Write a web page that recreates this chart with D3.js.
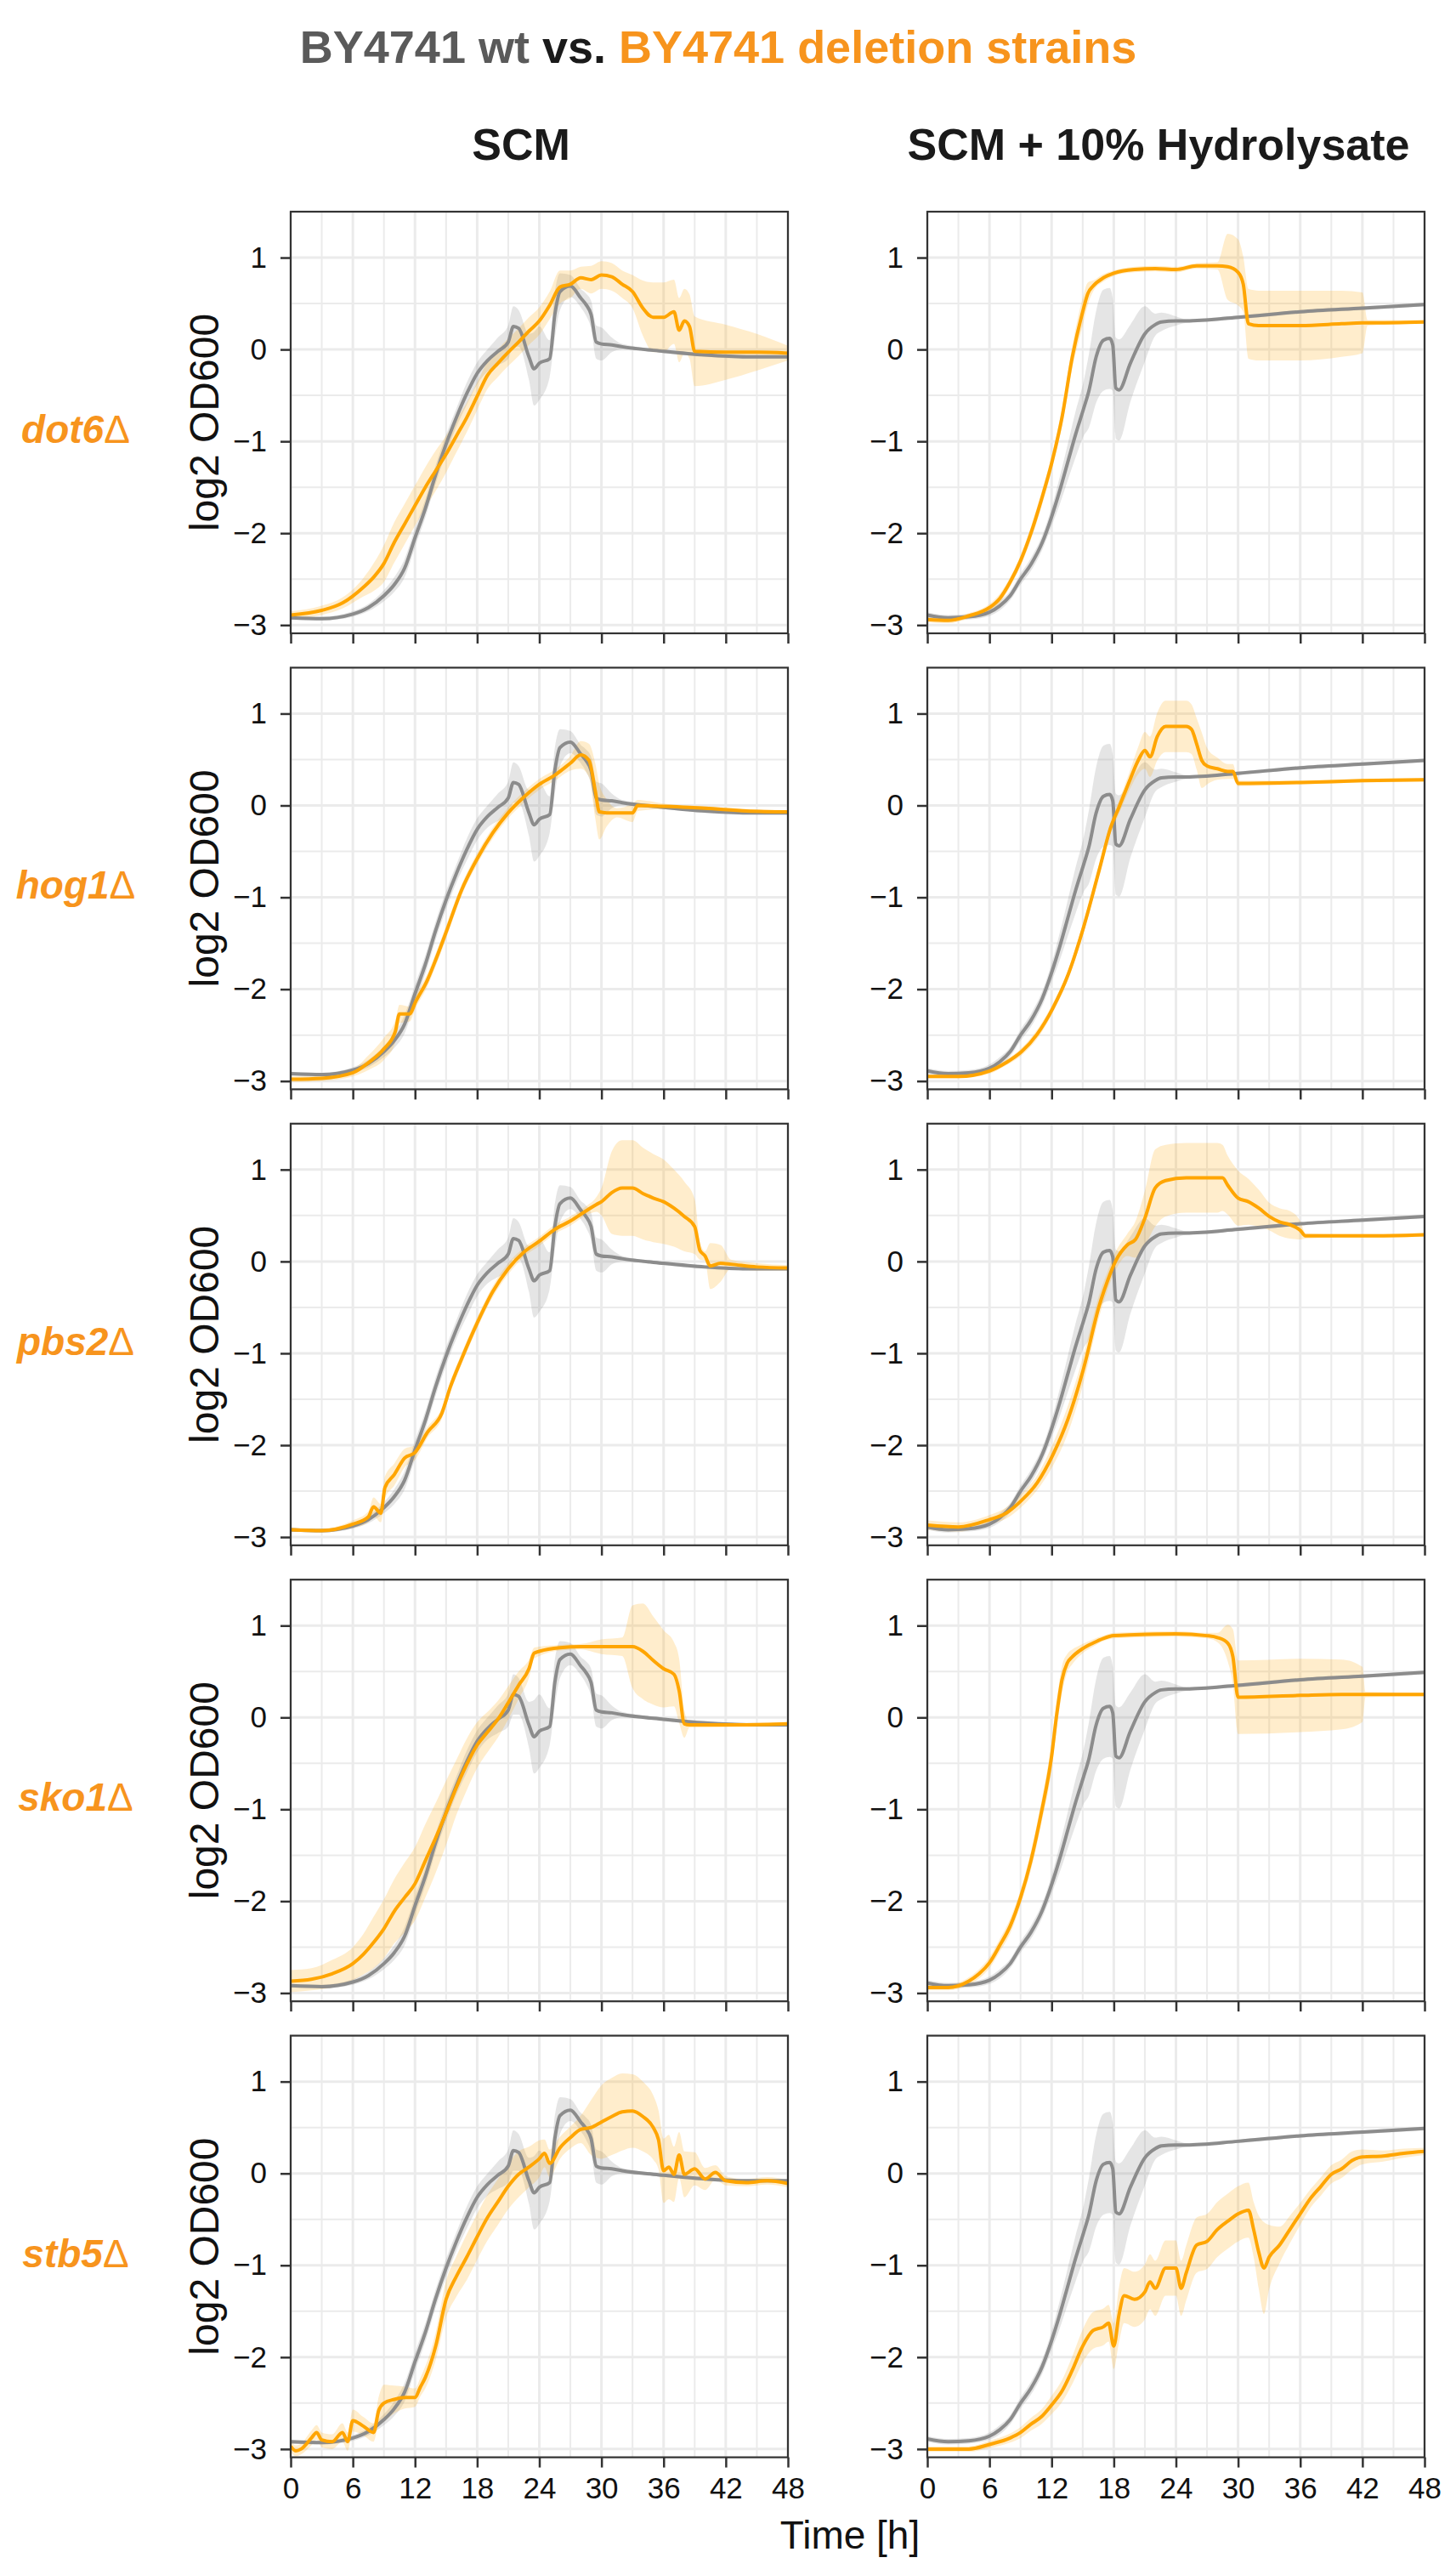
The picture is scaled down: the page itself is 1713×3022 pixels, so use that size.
<!DOCTYPE html>
<html>
<head>
<meta charset="utf-8">
<script src="https://cdn.jsdelivr.net/npm/d3@7"></script>
<style>
  body { margin: 0; background: #fff; }
  svg { display: block; }
  text { font-family: "Liberation Sans", Arial, Helvetica, sans-serif; }
</style>
</head>
<body>
<svg id="chart" width="1713" height="3022"></svg>
<script>
// categories / labels
const strains = ["dot6", "hog1", "pbs2", "sko1", "stb5"];
const media = ["SCM", "SCM + 10% Hydrolysate"];
const xTicks = [0, 6, 12, 18, 24, 30, 36, 42, 48];
const yTicks = [-3, -2, -1, 0, 1];

// each point: [time h, mean log2 OD600, sd]
const wtSCM = [[0,-2.92,0.02],[3,-2.93,0.02],[6,-2.88,0.03],[7.5,-2.81,0.04],[9,-2.68,0.06],[10,-2.56,0.08],[11,-2.38,0.1],[12,-2.05,0.1],[13,-1.73,0.1],[14,-1.36,0.1],[15,-1.03,0.1],[16,-0.74,0.1],[17,-0.48,0.12],[18,-0.26,0.12],[19,-0.12,0.12],[20,-0.02,0.15],[21,0.08,0.18],[21.5,0.25,0.22],[22,0.23,0.2],[23,-0.08,0.25],[23.5,-0.21,0.4],[24,-0.15,0.4],[25,-0.10,0.2],[25.5,0.38,0.25],[26,0.63,0.2],[27,0.69,0.12],[28,0.56,0.1],[28.5,0.49,0.12],[29,0.38,0.15],[29.5,0.08,0.18],[30,0.06,0.18],[31,0.05,0.08],[32,0.03,0.03],[36,-0.02,0.02],[40,-0.06,0.02],[44,-0.08,0.02],[48,-0.08,0.02]];
const wtHyd = [[0,-2.89,0.03],[2,-2.92,0.03],[4,-2.91,0.03],[6,-2.86,0.04],[7,-2.79,0.05],[8,-2.68,0.05],[9,-2.50,0.06],[10,-2.34,0.07],[11.1,-2.10,0.08],[12,-1.82,0.1],[12.8,-1.53,0.15],[13.6,-1.21,0.2],[14.3,-0.93,0.25],[15.1,-0.64,0.3],[15.6,-0.45,0.4],[16.3,-0.08,0.5],[17,0.10,0.55],[17.6,0.12,0.55],[17.9,0.05,0.5],[18.2,-0.42,0.55],[18.5,-0.44,0.55],[19.6,-0.15,0.42],[21,0.17,0.3],[22,0.27,0.12],[22.6,0.30,0.1],[24,0.31,0.05],[25,0.31,0.02],[30,0.35,0.02],[36,0.41,0.02],[42,0.45,0.02],[48,0.49,0.02]];

const dot6SCM = [[0,-2.89,0.04],[3,-2.84,0.05],[5,-2.76,0.06],[7,-2.59,0.1],[8,-2.48,0.15],[9,-2.33,0.2],[10,-2.10,0.22],[11,-1.90,0.22],[12,-1.70,0.22],[13,-1.50,0.22],[14,-1.32,0.22],[15,-1.14,0.2],[16,-0.94,0.18],[17,-0.74,0.16],[18,-0.51,0.15],[19,-0.28,0.15],[20,-0.15,0.15],[21,-0.03,0.15],[22,0.08,0.15],[23,0.20,0.15],[24,0.31,0.15],[25,0.48,0.15],[26,0.68,0.18],[27,0.71,0.15],[28,0.78,0.12],[29,0.76,0.15],[30,0.81,0.15],[31,0.79,0.15],[32,0.71,0.15],[33,0.63,0.18],[34,0.45,0.3],[35,0.35,0.38],[36,0.35,0.38],[37,0.41,0.35],[37.5,0.21,0.35],[38,0.31,0.35],[38.5,0.25,0.35],[39,-0.02,0.38],[42,-0.03,0.3],[45,-0.03,0.2],[48,-0.04,0.08]];
const dot6Hyd = [[0,-2.94,0.03],[2,-2.95,0.03],[4,-2.90,0.03],[6,-2.81,0.04],[7,-2.71,0.05],[8,-2.53,0.05],[9,-2.30,0.06],[10,-2.00,0.07],[11,-1.64,0.08],[12,-1.24,0.08],[13,-0.74,0.1],[14,-0.08,0.12],[15,0.41,0.15],[15.5,0.61,0.12],[16,0.69,0.06],[17,0.78,0.04],[18,0.83,0.03],[20,0.87,0.03],[22,0.88,0.03],[24,0.87,0.03],[26,0.91,0.03],[28,0.91,0.04],[29,0.90,0.36],[30,0.84,0.36],[30.5,0.71,0.3],[31,0.28,0.38],[32,0.26,0.38],[36,0.26,0.38],[40,0.28,0.36],[42,0.29,0.33],[42.5,0.29,0.03],[48,0.30,0.02]];
const hog1SCM = [[0,-2.98,0.03],[3,-2.97,0.03],[6,-2.91,0.04],[7.5,-2.80,0.08],[9,-2.65,0.12],[10.1,-2.46,0.12],[10.5,-2.27,0.1],[11.5,-2.27,0.08],[12,-2.15,0.07],[13.2,-1.90,0.07],[14,-1.68,0.07],[15,-1.38,0.07],[16.5,-0.92,0.06],[18,-0.58,0.06],[19.5,-0.30,0.06],[21,-0.08,0.06],[22.5,0.09,0.06],[24,0.23,0.06],[25.5,0.33,0.06],[27,0.46,0.08],[28,0.55,0.15],[28.8,0.49,0.18],[29.4,0.16,0.3],[29.8,-0.07,0.3],[30.5,-0.08,0.15],[31.5,-0.08,0.05],[33,-0.08,0.1],[33.5,0.00,0.06],[36,-0.01,0.03],[40,-0.03,0.02],[44,-0.06,0.02],[48,-0.07,0.02]];
const hog1Hyd = [[0,-2.95,0.02],[3,-2.95,0.02],[6,-2.89,0.03],[7.6,-2.80,0.03],[9.1,-2.68,0.04],[10.6,-2.49,0.05],[12.1,-2.21,0.05],[13.6,-1.84,0.05],[15.1,-1.32,0.06],[16.6,-0.70,0.06],[17.7,-0.24,0.06],[18.5,-0.02,0.07],[19.6,0.29,0.1],[20.4,0.50,0.15],[21,0.60,0.2],[21.5,0.53,0.22],[22.2,0.75,0.26],[23,0.86,0.28],[24,0.86,0.28],[25,0.86,0.28],[25.5,0.83,0.27],[26,0.67,0.28],[26.5,0.49,0.3],[27,0.43,0.2],[28,0.40,0.12],[29,0.37,0.08],[29.5,0.37,0.08],[30,0.24,0.03],[36,0.25,0.02],[42,0.27,0.02],[48,0.28,0.02]];
const pbs2SCM = [[0,-2.92,0.02],[3,-2.93,0.02],[6,-2.86,0.04],[7.5,-2.78,0.06],[8,-2.67,0.1],[8.7,-2.74,0.1],[9.1,-2.46,0.12],[10,-2.32,0.12],[11,-2.14,0.1],[12,-2.08,0.08],[13.2,-1.86,0.06],[14.6,-1.65,0.06],[15.4,-1.37,0.06],[16.5,-1.06,0.06],[18,-0.67,0.06],[19.5,-0.33,0.06],[21,-0.08,0.06],[22.5,0.10,0.05],[24,0.22,0.05],[25.5,0.35,0.05],[27,0.44,0.05],[28.5,0.55,0.05],[29.5,0.62,0.08],[30,0.65,0.15],[31,0.75,0.45],[32,0.80,0.52],[33,0.80,0.52],[34,0.74,0.5],[35,0.69,0.48],[36,0.65,0.46],[37,0.58,0.42],[38,0.49,0.38],[39,0.38,0.3],[39.5,0.12,0.1],[40,0.06,0.05],[40.5,-0.05,0.25],[41.5,-0.02,0.2],[42.5,-0.03,0.05],[45,-0.06,0.04],[48,-0.07,0.03]];
const pbs2Hyd = [[0,-2.87,0.05],[3,-2.89,0.05],[6,-2.81,0.05],[7.6,-2.74,0.06],[9.1,-2.60,0.07],[10.6,-2.41,0.08],[12.1,-2.11,0.12],[13.6,-1.71,0.15],[15.1,-1.16,0.15],[16.6,-0.48,0.12],[17.4,-0.21,0.1],[18.2,0.01,0.1],[19.3,0.18,0.12],[20.1,0.24,0.2],[21,0.47,0.3],[22,0.80,0.42],[23,0.88,0.39],[25,0.91,0.38],[28,0.91,0.38],[28.5,0.91,0.36],[29,0.83,0.32],[30,0.69,0.3],[31,0.65,0.25],[32,0.58,0.2],[33,0.49,0.15],[34,0.43,0.15],[35,0.40,0.15],[36,0.34,0.1],[36.5,0.28,0.03],[40,0.28,0.02],[44,0.28,0.02],[48,0.29,0.02]];
const sko1SCM = [[0,-2.87,0.12],[2,-2.85,0.12],[4,-2.79,0.15],[6,-2.68,0.18],[7,-2.58,0.22],[8,-2.45,0.28],[9,-2.30,0.32],[10,-2.11,0.35],[11,-1.96,0.38],[12,-1.81,0.4],[13,-1.56,0.4],[14,-1.31,0.38],[15,-1.04,0.35],[16,-0.76,0.3],[17,-0.51,0.28],[18,-0.30,0.25],[19,-0.16,0.22],[20,-0.02,0.2],[21,0.16,0.18],[22,0.35,0.15],[23,0.53,0.1],[23.5,0.70,0.06],[24,0.72,0.05],[26,0.76,0.03],[28,0.77,0.03],[30,0.77,0.08],[32,0.77,0.1],[33,0.77,0.45],[34,0.72,0.52],[35,0.62,0.48],[36,0.53,0.42],[37,0.47,0.35],[37.5,0.29,0.35],[38,-0.07,0.15],[38.5,-0.08,0.03],[40,-0.08,0.03],[44,-0.08,0.02],[48,-0.07,0.02]];
const sko1Hyd = [[0,-2.94,0.03],[2,-2.94,0.03],[4,-2.87,0.04],[5,-2.79,0.05],[6,-2.67,0.06],[7,-2.48,0.07],[8,-2.27,0.08],[9,-1.96,0.08],[10,-1.56,0.1],[11,-1.04,0.12],[12,-0.42,0.15],[12.5,0.04,0.15],[13,0.41,0.15],[13.5,0.59,0.1],[14,0.66,0.08],[15,0.75,0.05],[16,0.81,0.04],[17,0.86,0.03],[18,0.89,0.03],[20,0.90,0.03],[24,0.91,0.03],[27,0.89,0.03],[28,0.87,0.05],[29,0.81,0.2],[29.5,0.66,0.3],[30,0.22,0.4],[36,0.24,0.4],[40,0.25,0.38],[42,0.25,0.3],[42.3,0.25,0.03],[48,0.25,0.02]];
const stb5SCM = [[0,-2.97,0.06],[0.5,-3.02,0.06],[1,-3.00,0.06],[2,-2.88,0.08],[2.5,-2.82,0.08],[3,-2.90,0.08],[4,-2.92,0.08],[5,-2.82,0.1],[5.5,-2.92,0.1],[6,-2.69,0.12],[7,-2.75,0.1],[8,-2.82,0.1],[8.5,-2.58,0.15],[9,-2.50,0.2],[10,-2.46,0.15],[11,-2.44,0.12],[12,-2.44,0.1],[12.5,-2.33,0.1],[13,-2.22,0.12],[14,-1.88,0.15],[15,-1.37,0.2],[16,-1.12,0.22],[17,-0.91,0.25],[18,-0.69,0.25],[19,-0.48,0.25],[20,-0.31,0.25],[21,-0.14,0.25],[22,-0.01,0.25],[23,0.07,0.22],[24,0.16,0.2],[24.5,0.22,0.15],[25,0.11,0.15],[26,0.28,0.12],[27,0.39,0.12],[28,0.48,0.15],[29,0.50,0.3],[30,0.56,0.4],[31,0.62,0.42],[32,0.67,0.42],[33,0.68,0.4],[34,0.62,0.38],[35,0.50,0.35],[35.5,0.37,0.32],[36,0.03,0.35],[36.5,0.07,0.35],[37,-0.01,0.3],[37.5,0.20,0.25],[38,-0.01,0.25],[39,0.05,0.18],[40,-0.06,0.12],[41,0.01,0.08],[42,-0.08,0.05],[44,-0.10,0.04],[46,-0.08,0.04],[48,-0.11,0.04]];
const stb5Hyd = [[0,-3.00,0.03],[2,-3.00,0.03],[4,-3.00,0.03],[6,-2.95,0.04],[8,-2.88,0.05],[9,-2.82,0.06],[10,-2.73,0.07],[11,-2.65,0.08],[12,-2.52,0.1],[13,-2.37,0.12],[14,-2.14,0.15],[15,-1.88,0.18],[16,-1.71,0.2],[17,-1.67,0.2],[17.5,-1.63,0.2],[18,-1.88,0.25],[18.5,-1.54,0.3],[19,-1.33,0.3],[20,-1.37,0.3],[21,-1.29,0.3],[21.5,-1.18,0.3],[22,-1.25,0.3],[23,-1.03,0.3],[24,-1.03,0.3],[24.5,-1.25,0.3],[25,-1.08,0.3],[26,-0.78,0.3],[27,-0.74,0.3],[28,-0.61,0.3],[29,-0.52,0.3],[30,-0.44,0.3],[31,-0.40,0.3],[31.5,-0.61,0.3],[32,-0.86,0.4],[32.5,-1.03,0.5],[33,-0.91,0.35],[34,-0.78,0.2],[35,-0.61,0.15],[36,-0.44,0.12],[37,-0.27,0.1],[38,-0.14,0.1],[39,-0.01,0.1],[40,0.05,0.1],[41,0.14,0.1],[42,0.18,0.08],[44,0.19,0.06],[46,0.22,0.05],[48,0.24,0.04]];

// table of panels built from the arrays above
const wtByMedium = [wtSCM, wtHyd];
const mutants = [
    [dot6SCM, dot6Hyd],
    [hog1SCM, hog1Hyd],
    [pbs2SCM, pbs2Hyd],
    [sko1SCM, sko1Hyd],
    [stb5SCM, stb5Hyd]
];

const grey = "#8c8c8c", orange = "#FFA500", labelOrange = "#F7941D";

const svg = d3.select("#chart"),
      colLeft = [342, 1091],
      panelW = 585,
      panelH = 496,
      rowTop = 249,
      rowStep = 536.4;

const xScale = d3.scaleLinear().domain([0, 48]).range([0, panelW]);
const yScale = d3.scaleLinear().domain([-3.09, 1.5]).range([panelH, 0]);

const line = d3.line()
    .x(d => xScale(d[0]))
    .y(d => yScale(d[1]))
    .curve(d3.curveMonotoneX);

const band = d3.area()
    .x(d => xScale(d[0]))
    .y0(d => yScale(d[1] - d[2]))
    .y1(d => yScale(d[1] + d[2]))
    .curve(d3.curveMonotoneX);

const xMinor = d3.range(3, 48, 6);
const yMinor = [-2.5, -1.5, -0.5, 0.5];

// title
const title = svg.append("text")
    .attr("x", 845)
    .attr("y", 74)
    .attr("text-anchor", "middle")
    .attr("font-size", 54)
    .attr("font-weight", "bold");
title.append("tspan").attr("fill", "#5a5a5a").text("BY4741 wt ");
title.append("tspan").attr("fill", "#1a1a1a").text("vs. ");
title.append("tspan").attr("fill", labelOrange).text("BY4741 deletion strains");

// column headers
const headerX = [613, 1363];
media.forEach((m, j) => {
    svg.append("text")
        .attr("x", headerX[j])
        .attr("y", 188)
        .attr("text-anchor", "middle")
        .attr("font-size", 52)
        .attr("font-weight", "bold")
        .attr("fill", "#1a1a1a")
        .text(m);
});

strains.forEach((strain, i) => {
    const top = rowTop + i * rowStep;
    const cy = top + panelH / 2;
    const lastRow = i === strains.length - 1;

    // strain label
    const lab = svg.append("text")
        .attr("x", 89)
        .attr("y", cy + 24)
        .attr("text-anchor", "middle")
        .attr("font-size", 46)
        .attr("font-weight", "bold")
        .attr("font-style", "italic")
        .attr("fill", labelOrange);
    lab.append("tspan").text(strain);
    lab.append("tspan").attr("font-weight", "normal").attr("font-style", "normal").text("Δ");

    // y axis title
    svg.append("text")
        .attr("transform", `translate(257,${cy}) rotate(-90)`)
        .attr("text-anchor", "middle")
        .attr("font-size", 48)
        .attr("fill", "#111")
        .text("log2 OD600");

    media.forEach((m, j) => {
        const g = svg.append("g").attr("transform", `translate(${colLeft[j]},${top})`);
        const clipId = `clip-${i}-${j}`;
        g.append("clipPath").attr("id", clipId)
            .append("rect").attr("width", panelW).attr("height", panelH);

        g.append("rect").attr("width", panelW).attr("height", panelH).attr("fill", "#fff");

        // grid
        const grid = g.append("g").attr("stroke", "#ebebeb");
        grid.selectAll(".vminor").data(xMinor).join("line")
            .attr("x1", d => xScale(d)).attr("x2", d => xScale(d))
            .attr("y1", 0).attr("y2", panelH).attr("stroke-width", 2);
        grid.selectAll(".hminor").data(yMinor).join("line")
            .attr("y1", d => yScale(d)).attr("y2", d => yScale(d))
            .attr("x1", 0).attr("x2", panelW).attr("stroke-width", 2);
        grid.selectAll(".vmajor").data(xTicks).join("line")
            .attr("x1", d => xScale(d)).attr("x2", d => xScale(d))
            .attr("y1", 0).attr("y2", panelH).attr("stroke-width", 3);
        grid.selectAll(".hmajor").data(yTicks).join("line")
            .attr("y1", d => yScale(d)).attr("y2", d => yScale(d))
            .attr("x1", 0).attr("x2", panelW).attr("stroke-width", 3);

        const plot = g.append("g").attr("clip-path", `url(#${clipId})`);
        const wt = wtByMedium[j], mut = mutants[i][j];

        plot.append("path").datum(wt).attr("d", band)
            .attr("fill", "#7f7f7f").attr("fill-opacity", 0.2);
        plot.append("path").datum(mut).attr("d", band)
            .attr("fill", orange).attr("fill-opacity", 0.2);
        plot.append("path").datum(wt).attr("d", line)
            .attr("fill", "none").attr("stroke", grey).attr("stroke-width", 4)
            .attr("stroke-linejoin", "round");
        plot.append("path").datum(mut).attr("d", line)
            .attr("fill", "none").attr("stroke", orange).attr("stroke-width", 4)
            .attr("stroke-linejoin", "round");

        // axes
        const yAxis = g.append("g")
            .call(d3.axisLeft(yScale).tickValues(yTicks).tickSize(12).tickPadding(16)
                .tickFormat(d3.format("d")));
        const xAxis = g.append("g")
            .attr("transform", `translate(0,${panelH})`)
            .call(d3.axisBottom(xScale).tickValues(xTicks).tickSize(12).tickPadding(12)
                .tickFormat(lastRow ? d3.format("d") : () => ""));
        [yAxis, xAxis].forEach(ax => {
            ax.attr("font-size", 35)
              .attr("font-family", "'Liberation Sans', Arial, Helvetica, sans-serif")
              .attr("color", "#333");
            ax.select(".domain").remove();
            ax.selectAll(".tick line").attr("stroke-width", 2.5);
            ax.selectAll(".tick text").attr("fill", "#111");
        });

        g.append("rect").attr("width", panelW).attr("height", panelH)
            .attr("fill", "none").attr("stroke", "#333").attr("stroke-width", 2.2);
    });
});

// x axis title
svg.append("text")
    .attr("x", 1000)
    .attr("y", 2998)
    .attr("text-anchor", "middle")
    .attr("font-size", 46)
    .attr("fill", "#111")
    .text("Time [h]");
</script>
</body>
</html>
